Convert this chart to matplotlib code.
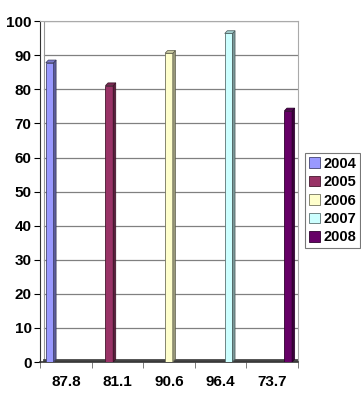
import matplotlib.pyplot as plt
import numpy as np
from matplotlib.patches import Polygon
from matplotlib.colors import to_rgb

plt.rcParams['font.family'] = ['Liberation Sans', 'DejaVu Sans']

# Data
categories = ["87.8", "81.1", "90.6", "96.4", "73.7"]
years = ["2004", "2005", "2006", "2007", "2008"]
values = [87.8, 81.1, 90.6, 96.4, 73.7]
colors = ["#9999FF", "#993366", "#FFFFCC", "#CCFFFF", "#660066"]

fig = plt.figure(figsize=(3.61, 4.0), dpi=100)
ax = fig.add_axes([0.111, 0.095, 0.714, 0.852])

x = np.arange(len(categories))
slot = 0.157
width = 0.15
dx = 0.05
dy = 0.8

def shade(c, f):
    r, g, b = to_rgb(c)
    return (r * f, g * f, b * f)

for j, year in enumerate(years):
    heights = [v if i == j else 0 for i, v in enumerate(values)]
    pos = x + (j - 2) * slot
    bars = ax.bar(pos, heights, width=width, color=colors[j],
                  edgecolor=shade(colors[j], 0.45), linewidth=0.6,
                  label=year, zorder=3)
    for b in bars:
        h = b.get_height()
        if h == 0:
            continue
        x0 = b.get_x()
        x1 = x0 + b.get_width()
        side = Polygon([(x1, 0), (x1 + dx, dy), (x1 + dx, h + dy), (x1, h)],
                       closed=True, facecolor=shade(colors[j], 0.6),
                       edgecolor=shade(colors[j], 0.35), linewidth=0.5, zorder=3)
        top = Polygon([(x0, h), (x1, h), (x1 + dx, h + dy), (x0 + dx, h + dy)],
                      closed=True, facecolor=shade(colors[j], 0.8),
                      edgecolor=shade(colors[j], 0.35), linewidth=0.5, zorder=3)
        ax.add_patch(side)
        ax.add_patch(top)

ax.set_xlim(-0.5, 4.5)
ax.set_ylim(0, 100)
ax.set_yticks(range(0, 101, 10))
ax.set_xticks(x)
ax.set_xticklabels(categories, fontsize=11, fontweight='bold')
ax.set_xticks(np.arange(-0.5, 5, 1), minor=True)
ax.tick_params(axis='x', which='major', length=0, pad=9)
ax.tick_params(axis='x', which='minor', length=4, direction='out', color='#666666')
ax.tick_params(axis='y', length=4, direction='out', labelsize=11, pad=2)
for lab in ax.get_yticklabels():
    lab.set_fontweight('bold')

# back wall gridlines
for yv in range(10, 101, 10):
    ax.plot([-0.42, 4.5], [yv, yv], color='#808080', linewidth=0.9, zorder=1)
ax.plot([-0.42, -0.42], [0, 100], color='#999999', linewidth=0.8, zorder=1)
ax.plot([-0.42, 4.5], [0.5, 0.5], color='#444444', linewidth=2.0, zorder=2)

ax.spines['left'].set_color('#333333')
ax.spines['bottom'].set_color('#333333')
ax.spines['bottom'].set_linewidth(1.2)
ax.spines['top'].set_color('#aaaaaa')
ax.spines['right'].set_color('#aaaaaa')

leg = fig.legend(loc='upper left', bbox_to_anchor=(0.845, 0.617),
                 prop={'weight': 'bold', 'size': 10.5}, frameon=True,
                 fancybox=False, edgecolor='#555555', handlelength=0.75,
                 handleheight=0.75, handletextpad=0.25, borderpad=0.25,
                 labelspacing=0.3, borderaxespad=0)
leg.get_frame().set_linewidth(0.8)

fig.savefig("out.png", dpi=100)
